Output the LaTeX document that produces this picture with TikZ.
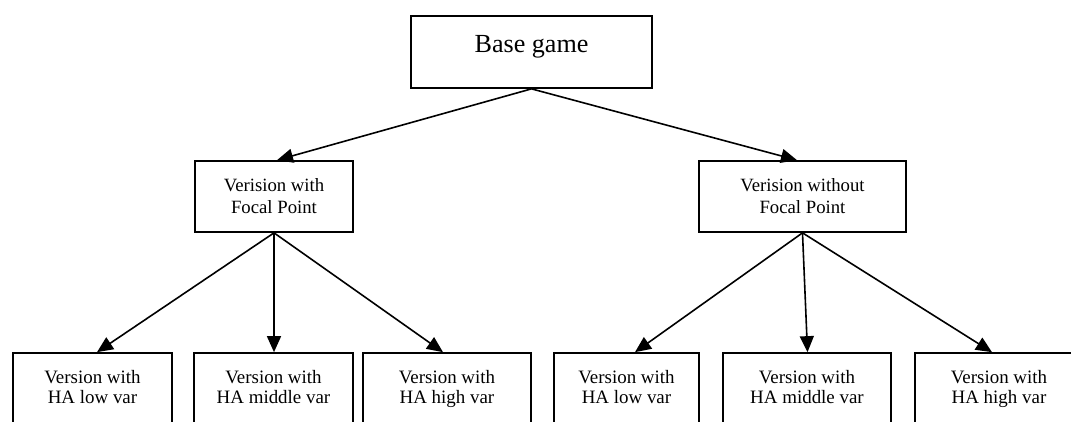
\documentclass[tikz,border=0pt]{standalone}
\usepackage{fontspec}
\setmainfont{Liberation Serif}
\usetikzlibrary{arrows.meta}
\tikzset{
  box/.style={draw, line width=1.7bp, rectangle, inner sep=0pt, align=center},
  midbox/.style={box, minimum width=#1, minimum height=71bp, font=\fontsize{18.8}{22}\selectfont},
  lowbox/.style={box, minimum width=#1, minimum height=72bp, font=\fontsize{19}{21}\selectfont},
  arr/.style={line width=1.6bp, -{Triangle[length=16bp,width=14bp]}}
}
\newcommand{\dg}{\vphantom{g}}
\begin{document}
\begin{tikzpicture}[x=1bp,y=-1bp]
\useasboundingbox (0,0) rectangle (1071,421);
\clip (0,0) rectangle (1071,421);
\node[box, minimum width=241bp, minimum height=72bp, font=\fontsize{26.2}{30}\selectfont,
      text height=18bp, text depth=18bp] (base) at (531.5,52) {Base game};
\node[midbox=158bp] (ml) at (274,196.5) {Verision with\\Focal Point};
\node[midbox=207bp] (mr) at (802.5,196.5) {Verision without\\Focal Point};
\node[lowbox=159bp] (b1) at (92.5,389) {Version with\\HA low var\dg};
\node[lowbox=159bp] (b2) at (273.5,389) {Version with\\HA middle var\dg};
\node[lowbox=168bp] (b3) at (447,389) {Version with\\HA high var\dg};
\node[lowbox=145bp] (b4) at (626.5,389) {Version with\\HA low var\dg};
\node[lowbox=168bp] (b5) at (807,389) {Version with\\HA middle var\dg};
\node[lowbox=168bp] (b6) at (999,389) {Version with\\HA high var\dg};
\draw[arr] (base.south) -- ([xshift=3bp]ml.north);
\draw[arr] (base.south) -- ([xshift=-5.5bp]mr.north);
\draw[arr] (ml.south) -- ([xshift=4.5bp]b1.north);
\draw[arr] (ml.south) -- ([xshift=0.5bp]b2.north);
\draw[arr] (ml.south) -- ([xshift=-4bp]b3.north);
\draw[arr] (mr.south) -- ([xshift=8.5bp]b4.north);
\draw[arr] (mr.south) -- ([xshift=0.5bp]b5.north);
\draw[arr] (mr.south) -- ([xshift=-7bp]b6.north);
\end{tikzpicture}
\end{document}
